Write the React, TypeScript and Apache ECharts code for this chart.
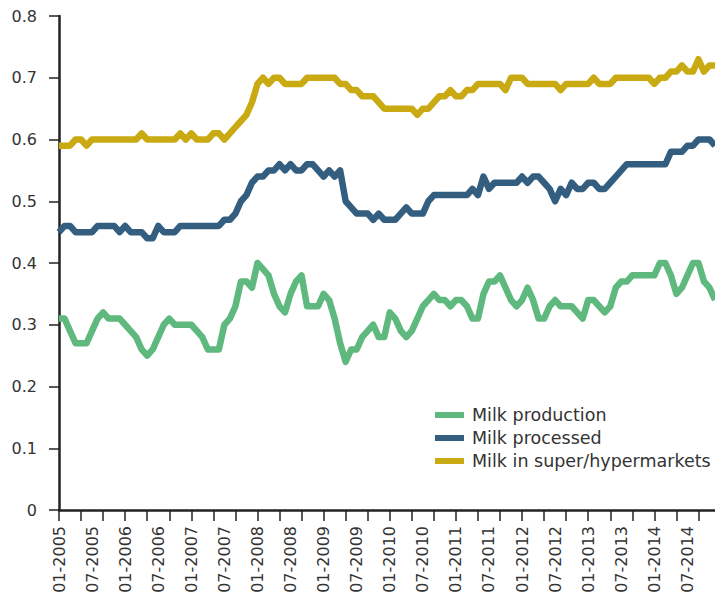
import React, { useEffect, useRef } from "react";
import * as echarts from "echarts";

const months: string[] = [];
for (let y = 2005; y <= 2014; y++) {
  for (let m = 1; m <= 12; m++) {
    months.push(`${m < 10 ? "0" + m : m}-${y}`);
  }
}

const milkProduction = [
  0.31, 0.31, 0.29, 0.27, 0.27, 0.27, 0.29, 0.31, 0.32, 0.31,
  0.31, 0.31, 0.30, 0.29, 0.28, 0.26, 0.25, 0.26, 0.28, 0.30,
  0.31, 0.30, 0.30, 0.30, 0.30, 0.29, 0.28, 0.26, 0.26, 0.26,
  0.30, 0.31, 0.33, 0.37, 0.37, 0.36, 0.40, 0.39, 0.38, 0.35,
  0.33, 0.32, 0.35, 0.37, 0.38, 0.33, 0.33, 0.33, 0.35, 0.34,
  0.31, 0.27, 0.24, 0.26, 0.26, 0.28, 0.29, 0.30, 0.28, 0.28,
  0.32, 0.31, 0.29, 0.28, 0.29, 0.31, 0.33, 0.34, 0.35, 0.34,
  0.34, 0.33, 0.34, 0.34, 0.33, 0.31, 0.31, 0.35, 0.37, 0.37,
  0.38, 0.36, 0.34, 0.33, 0.34, 0.36, 0.34, 0.31, 0.31, 0.33,
  0.34, 0.33, 0.33, 0.33, 0.32, 0.31, 0.34, 0.34, 0.33, 0.32,
  0.33, 0.36, 0.37, 0.37, 0.38, 0.38, 0.38, 0.38, 0.38, 0.40,
  0.40, 0.38, 0.35, 0.36, 0.38, 0.40, 0.40, 0.37, 0.36, 0.34,
];

const milkProcessed = [
  0.45, 0.46, 0.46, 0.45, 0.45, 0.45, 0.45, 0.46, 0.46, 0.46,
  0.46, 0.45, 0.46, 0.45, 0.45, 0.45, 0.44, 0.44, 0.46, 0.45,
  0.45, 0.45, 0.46, 0.46, 0.46, 0.46, 0.46, 0.46, 0.46, 0.46,
  0.47, 0.47, 0.48, 0.50, 0.51, 0.53, 0.54, 0.54, 0.55, 0.55,
  0.56, 0.55, 0.56, 0.55, 0.55, 0.56, 0.56, 0.55, 0.54, 0.55,
  0.54, 0.55, 0.50, 0.49, 0.48, 0.48, 0.48, 0.47, 0.48, 0.47,
  0.47, 0.47, 0.48, 0.49, 0.48, 0.48, 0.48, 0.50, 0.51, 0.51,
  0.51, 0.51, 0.51, 0.51, 0.51, 0.52, 0.51, 0.54, 0.52, 0.53,
  0.53, 0.53, 0.53, 0.53, 0.54, 0.53, 0.54, 0.54, 0.53, 0.52,
  0.50, 0.52, 0.51, 0.53, 0.52, 0.52, 0.53, 0.53, 0.52, 0.52,
  0.53, 0.54, 0.55, 0.56, 0.56, 0.56, 0.56, 0.56, 0.56, 0.56,
  0.56, 0.58, 0.58, 0.58, 0.59, 0.59, 0.60, 0.60, 0.60, 0.59,
];

const milkSupermarkets = [
  0.59, 0.59, 0.59, 0.60, 0.60, 0.59, 0.60, 0.60, 0.60, 0.60,
  0.60, 0.60, 0.60, 0.60, 0.60, 0.61, 0.60, 0.60, 0.60, 0.60,
  0.60, 0.60, 0.61, 0.60, 0.61, 0.60, 0.60, 0.60, 0.61, 0.61,
  0.60, 0.61, 0.62, 0.63, 0.64, 0.66, 0.69, 0.70, 0.69, 0.70,
  0.70, 0.69, 0.69, 0.69, 0.69, 0.70, 0.70, 0.70, 0.70, 0.70,
  0.70, 0.69, 0.69, 0.68, 0.68, 0.67, 0.67, 0.67, 0.66, 0.65,
  0.65, 0.65, 0.65, 0.65, 0.65, 0.64, 0.65, 0.65, 0.66, 0.67,
  0.67, 0.68, 0.67, 0.67, 0.68, 0.68, 0.69, 0.69, 0.69, 0.69,
  0.69, 0.68, 0.70, 0.70, 0.70, 0.69, 0.69, 0.69, 0.69, 0.69,
  0.69, 0.68, 0.69, 0.69, 0.69, 0.69, 0.69, 0.70, 0.69, 0.69,
  0.69, 0.70, 0.70, 0.70, 0.70, 0.70, 0.70, 0.70, 0.69, 0.70,
  0.70, 0.71, 0.71, 0.72, 0.71, 0.71, 0.73, 0.71, 0.72, 0.72,
];

const seriesNames = ["Milk production", "Milk processed", "Milk in super/hypermarkets"];
const seriesColors = ["#5fb87e", "#335e80", "#c9aa12"];
const seriesData = [milkProduction, milkProcessed, milkSupermarkets];

const FONT = "'DejaVu Sans', sans-serif";
const TEXT = "#333333";

export default function App() {
  const ref = useRef<HTMLDivElement>(null);
  useEffect(() => {
    if (!ref.current) return;
    const chart = echarts.init(ref.current, undefined, { renderer: "svg" });
    chart.setOption({
      animation: false,
      backgroundColor: "#ffffff",
      grid: { left: 59, right: 0, top: 16, bottom: 93, containLabel: false },
      legend: {
        orient: "vertical",
        left: 430,
        top: 401,
        icon: "rect",
        itemWidth: 29,
        itemHeight: 6,
        itemGap: 5,
        textStyle: {
          fontFamily: FONT,
          fontSize: 17.5,
          color: TEXT,
          lineHeight: 18,
          padding: [0, 0, 0, 3],
        },
        data: seriesNames,
      },
      xAxis: {
        type: "category",
        data: months,
        boundaryGap: false,
        axisLine: { lineStyle: { color: "#222", width: 2.5 } },
        axisTick: { interval: 3, length: 11, lineStyle: { color: "#222", width: 1.5 } },
        axisLabel: {
          interval: 5,
          rotate: 90,
          margin: 16,
          fontFamily: FONT,
          fontSize: 16,
          color: TEXT,
        },
        splitLine: { show: false },
      },
      yAxis: {
        type: "value",
        min: 0,
        max: 0.8,
        interval: 0.1,
        axisLine: { show: true, lineStyle: { color: "#222", width: 2.5 } },
        axisTick: { show: true, length: 10, lineStyle: { color: "#222", width: 1.5 } },
        axisLabel: {
          margin: 22,
          fontFamily: FONT,
          fontSize: 16,
          color: TEXT,
        },
        splitLine: { show: false },
      },
      series: seriesNames.map((name, i) => ({
        name,
        type: "line",
        data: seriesData[i],
        showSymbol: false,
        symbol: "none",
        color: seriesColors[i],
        lineStyle: { width: 6.5, color: seriesColors[i], join: "round" },
        z: 3 - i,
      })),
    });
    return () => chart.dispose();
  }, []);
  return (
    <div
      ref={ref}
      style={{ position: "fixed", left: 0, top: 0, width: 715, height: 603 }}
    />
  );
}
